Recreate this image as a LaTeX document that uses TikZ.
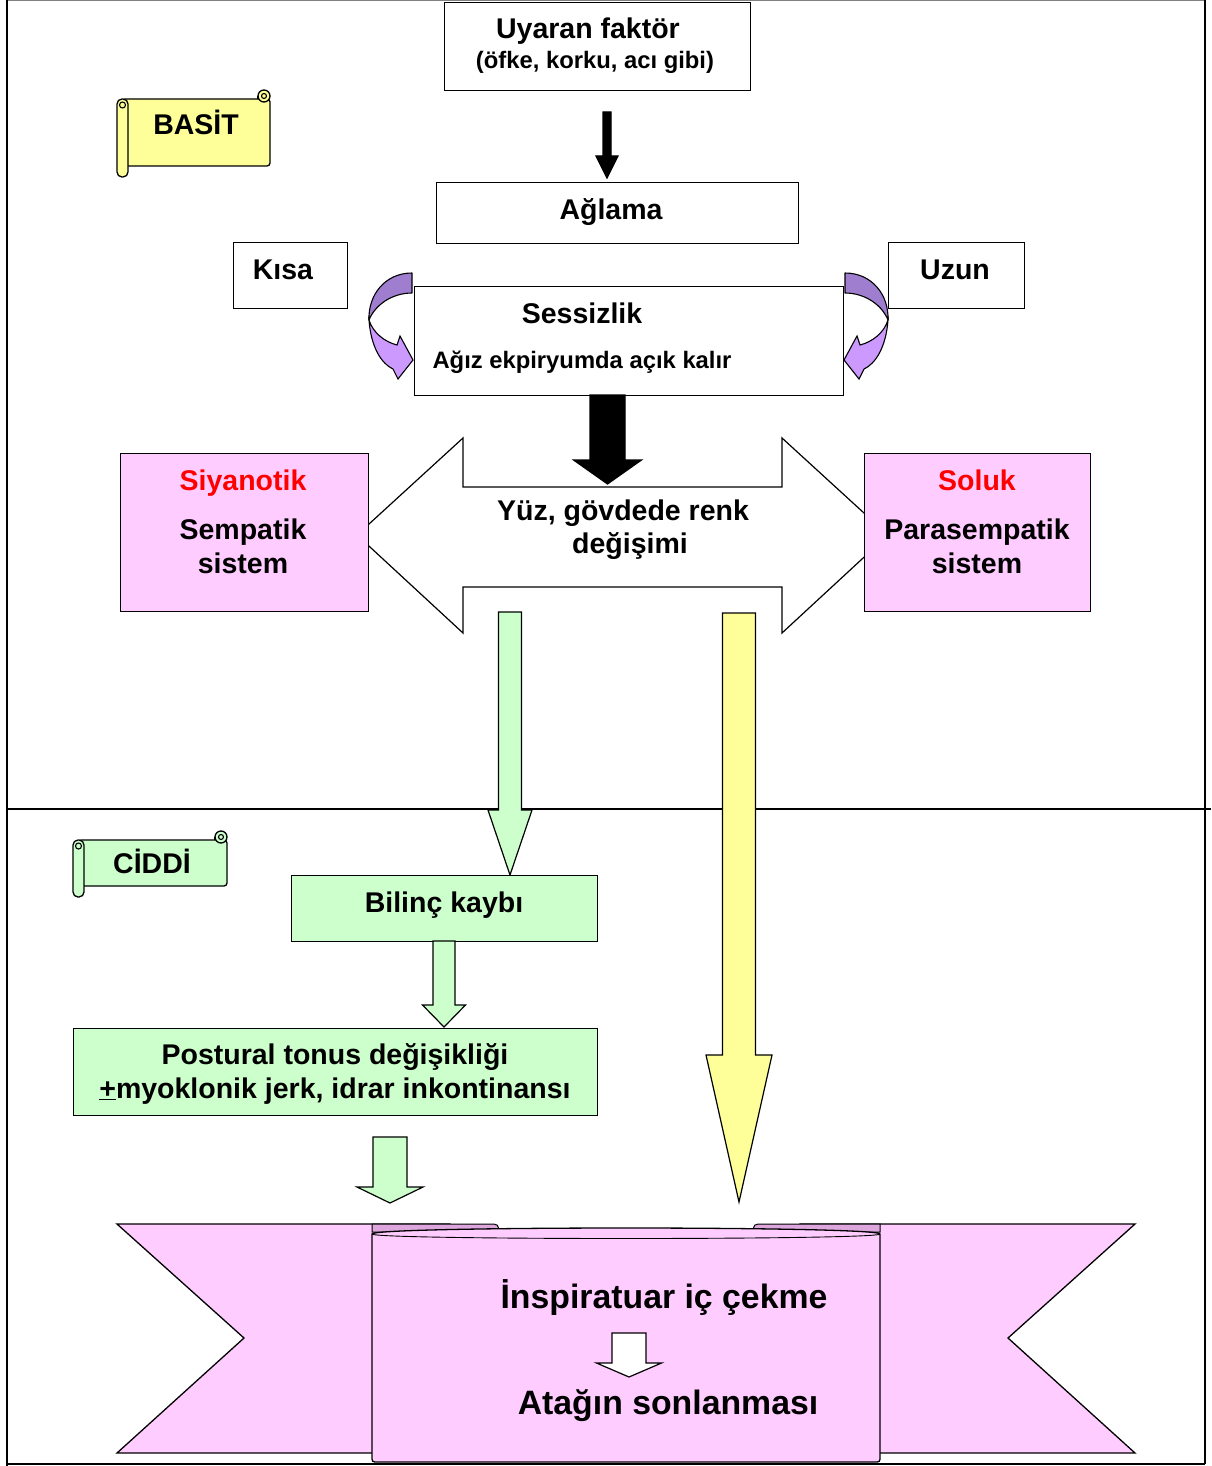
\documentclass[tikz,border=0pt]{standalone}
\usepackage{fontspec}
\setmainfont{Liberation Sans}
\definecolor{pinkc}{HTML}{FFCCFF}
\definecolor{pinkd}{HTML}{DDA6DD}
\definecolor{greenc}{HTML}{CCFFCC}
\definecolor{yellowc}{HTML}{FFFF99}
\definecolor{purpled}{HTML}{A07ECF}
\definecolor{purplel}{HTML}{CC99FF}
\newcommand{\downblock}[7]{%
  \filldraw[fill=#7, draw=black, line width=1.2pt, line join=miter]
  ({#1-#4},#2) -- ({#1+#4},#2) -- ({#1+#4},{#3-#6}) -- ({#1+#5},{#3-#6}) --
  (#1,#3) -- ({#1-#5},{#3-#6}) -- ({#1-#4},{#3-#6}) -- cycle;}
\newcommand{\scrollbox}[5]{%
  \filldraw[fill=#5, line width=1.3pt, rounded corners=3pt] ({#1+5},{#2+9}) rectangle (#3,{#4-11});
  \filldraw[fill=#5, line width=1.3pt] ({#3-6},{#2+6}) circle (6pt);
  \draw[line width=1.1pt] ({#3-6},{#2+6}) circle (2.5pt);
  \draw[line width=1.3pt] ({#3-12},{#2+6}) -- ({#3-12},{#2+9});
  \filldraw[fill=#5, line width=1.3pt, rounded corners=5pt] (#1,{#2+9}) rectangle ({#1+11},#4);
  \draw[line width=1.1pt] ({#1+5.5},{#2+15}) circle (3pt);}
\begin{document}
\begin{tikzpicture}[x=1pt,y=-1pt,
  box/.style={draw=black, line width=1.3pt, fill=white, inner sep=0pt, anchor=north west},
  txt/.style={font=\bfseries\fontsize{28.5}{30}\selectfont, anchor=base, inner sep=0pt},
  txts/.style={font=\bfseries\fontsize{23.8}{26}\selectfont, anchor=base, inner sep=0pt},
  txtl/.style={font=\bfseries\fontsize{33.8}{36}\selectfont, anchor=base, inner sep=0pt}]
\useasboundingbox (0,0) rectangle (1211,1466);
\fill[white] (0,0) rectangle (1211,1466);
% frame
\draw[gray, line width=1pt] (7,1) -- (1205,1);
\draw[line width=2.4pt] (7,0) -- (7,1466);
\draw[line width=2pt] (1205,0) -- (1205,1464);
\draw[line width=2pt] (7,1464) -- (1205,1464);
\draw[line width=1.5pt] (7,809) -- (1211,809);

% top boxes
\node[box, minimum width=306pt, minimum height=88pt] (uyaran) at (444,2) {};
\node[txt] (uyaran-t1) at (588,39) {Uyaran faktör};
\node[txts] (uyaran-t2) at (595,68.5) {(öfke, korku, acı gibi)};
\downblock{607}{112}{178}{4}{11}{22}{black}
\node[box, minimum width=362pt, minimum height=61pt] (aglama) at (436,182) {};
\node[txt] (aglama-t) at (611,219) {Ağlama};
\node[box, minimum width=114pt, minimum height=66pt] (kisa) at (233,242) {};
\node[txt] (kisa-t) at (283,279) {Kısa};
\node[box, minimum width=136pt, minimum height=66pt] (uzun) at (888,242) {};
\node[txt] (uzun-t) at (955,279) {Uzun};
\node[box, minimum width=429pt, minimum height=109pt] (sessiz) at (414,286) {};
\node[txt] (sessiz-t1) at (582,323) {Sessizlik};
\node[txts] (sessiz-t2) at (582,368.5) {Ağız ekpiryumda açık kalır};

% curved arrows
\foreach \sc/\sh in {1/0, -1/1257}{
\begin{scope}[xshift=\sh pt, xscale=\sc]
  \filldraw[fill=purpled, line width=1.1pt, line join=round]
    (412,273) .. controls (385,273) and (368,295) .. (369,320)
    .. controls (375,305) and (392,293) .. (412,293) -- cycle;
  \filldraw[fill=purplel, line width=1.1pt, line join=miter]
    (369,320) .. controls (371,348) and (382,364) .. (393,369)
    -- (398,379) -- (413,360) -- (400,336) -- (397,345)
    .. controls (385,342) and (373,333) .. (369,320) -- cycle;
\end{scope}}

% big double arrow
\filldraw[fill=white, line width=1.2pt, line join=miter]
  (357,535) -- (463,438) -- (463,487) -- (782,487) -- (782,438) -- (888,535)
  -- (782,633) -- (782,587) -- (463,587) -- (463,633) -- cycle;
\downblock{607.5}{395}{484}{17.5}{34}{24}{black}
\node[txt] (renk-t1) at (623,520) {Yüz, gövdede renk};
\node[txt] (renk-t2) at (630,553) {değişimi};

% side boxes
\node[box, fill=pinkc, minimum width=248pt, minimum height=158pt] (siyan) at (120,453) {};
\node[txt, text=red] (siyan-t1) at (243,490) {Siyanotik};
\node[txt] (siyan-t2) at (243,539) {Sempatik};
\node[txt] (siyan-t3) at (243,573) {sistem};
\node[box, fill=pinkc, minimum width=226pt, minimum height=158pt] (soluk) at (864,453) {};
\node[txt, text=red] (soluk-t1) at (977,490) {Soluk};
\node[txt] (soluk-t2) at (977,539) {Parasempatik};
\node[txt] (soluk-t3) at (977,573) {sistem};

% scrolls
\scrollbox{117}{90}{270}{177}{yellowc}
\node[txt] (basit) at (196,135) {BASİT};
\scrollbox{73}{831}{227}{897}{greenc}
\node[txt] (ciddi) at (152,873) {CİDDİ};

% lower arrows
\downblock{510}{612}{875}{11.5}{22}{65}{greenc}
\downblock{739}{613}{1202}{16.5}{33}{147}{yellowc}
\node[box, fill=greenc, minimum width=306pt, minimum height=66pt] (bilinc) at (291,875) {};
\node[txt] (bilinc-t) at (444,912) {Bilinç kaybı};
\downblock{444}{941}{1027}{11}{21.5}{22}{greenc}
\node[box, fill=greenc, minimum width=524pt, minimum height=87pt] (postural) at (73,1028) {};
\node[txt] (postural-t1) at (335,1064) {Postural tonus değişikliği};
\node[txt] (postural-t2) at (335,1098) {\underline{+}myoklonik jerk, idrar inkontinansı};
\downblock{390}{1137}{1203}{17}{33}{16}{greenc}

% ribbon
\filldraw[fill=pinkc, line width=1.3pt, line join=miter]
  (117,1224) -- (450,1224) -- (450,1453) -- (117,1453) -- (244,1338) -- cycle;
\filldraw[fill=pinkc, line width=1.3pt, line join=miter]
  (1135,1224) -- (800,1224) -- (800,1453) -- (1135,1453) -- (1008,1338) -- cycle;
\filldraw[fill=pinkd, line width=1pt]
  (372,1224) -- (494,1224) .. controls (500,1224) and (500,1232) .. (494,1232) -- (372,1232) -- cycle;
\filldraw[fill=pinkd, line width=1pt]
  (880,1224) -- (758,1224) .. controls (752,1224) and (752,1232) .. (758,1232) -- (880,1232) -- cycle;
\filldraw[fill=pinkc, line width=1.3pt]
  (372,1234) .. controls (372,1226) and (880,1226) .. (880,1234) -- (880,1456)
  .. controls (880,1462) .. (874,1462) -- (378,1462) .. controls (372,1462) .. (372,1456) -- cycle;
\draw[line width=0.9pt] (372,1234) .. controls (372,1240) and (880,1240) .. (880,1234);
\node[txtl] (insp) at (664,1308) {İnspiratuar iç çekme};
\downblock{629}{1333}{1377}{17}{32.5}{14}{white}
\node[txtl] (atak) at (668,1414) {Atağın sonlanması};
\end{tikzpicture}
\end{document}
